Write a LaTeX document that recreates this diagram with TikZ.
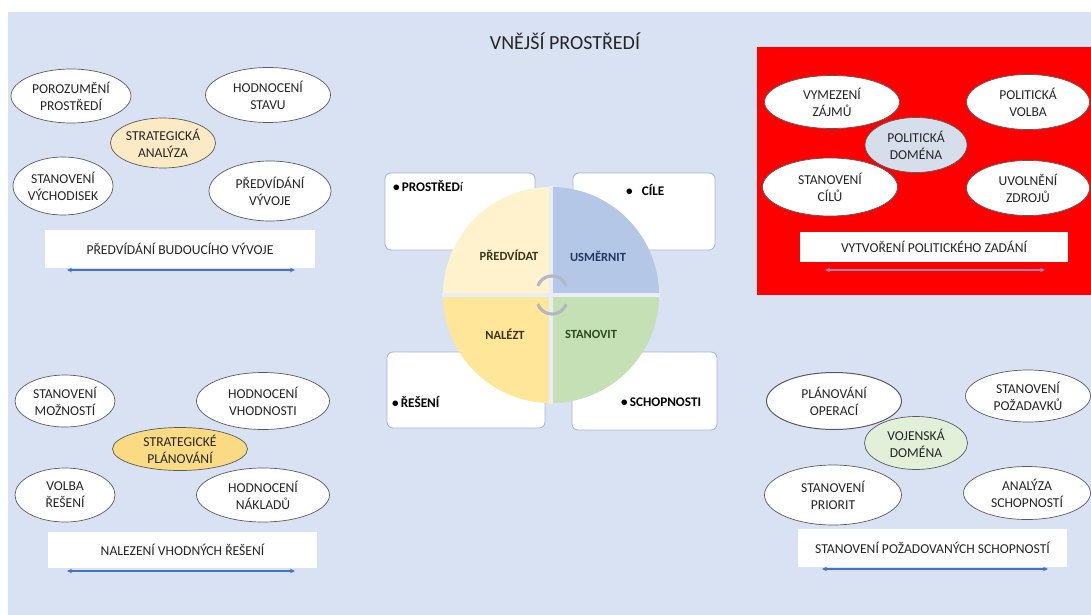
\documentclass[tikz,border=0pt]{standalone}
\usepackage{fontspec}
\setmainfont{Carlito}
\usetikzlibrary{shapes.geometric,arrows.meta,calc}

\definecolor{bgblue}{RGB}{217,226,242}
\definecolor{inktext}{RGB}{38,38,38}
\definecolor{elline}{RGB}{90,90,95}
\definecolor{tanfill}{RGB}{252,234,196}
\definecolor{goldfill}{RGB}{250,218,130}
\definecolor{polfill}{RGB}{214,222,236}
\definecolor{milfill}{RGB}{226,239,217}
\definecolor{arrowblue}{RGB}{68,114,196}
\definecolor{arrowred}{RGB}{150,132,178}
\definecolor{redpanel}{RGB}{255,0,0}
\definecolor{qyellowlight}{RGB}{255,242,204}
\definecolor{qblue}{RGB}{180,199,231}
\definecolor{qyellow}{RGB}{255,230,153}
\definecolor{qgreen}{RGB}{197,224,180}
\definecolor{gapcol}{RGB}{232,237,246}
\definecolor{cardline}{RGB}{165,180,205}
\definecolor{labbrown}{RGB}{60,52,30}
\definecolor{labblue}{RGB}{32,56,100}
\definecolor{labgreen}{RGB}{45,75,35}
\definecolor{swirl}{RGB}{178,184,196}

\tikzset{
  oval/.style={ellipse, draw=elline, line width=0.7pt, fill=white, inner sep=0pt,
    align=center, text=inktext, font=\fontsize{13.6}{17}\selectfont},
  banner/.style={rectangle, fill=white, inner sep=0pt, text=inktext,
    font=\fontsize{13.6}{17}\selectfont},
  card/.style={rectangle, rounded corners=6pt, draw=cardline, line width=0.8pt,
    fill=white, inner sep=0pt},
  bullet/.style={anchor=west, inner sep=0pt, text=black,
    font=\bfseries\fontsize{13.2}{16}\selectfont},
  quadlab/.style={inner sep=0pt, font=\bfseries\fontsize{12.5}{15}\selectfont},
  span/.style={{Stealth[length=5pt,width=4.5pt]}-{Stealth[length=5pt,width=4.5pt]},
    line width=1.1pt},
}

\begin{document}
\begin{tikzpicture}[x=1pt,y=-1pt]
\useasboundingbox (0,0) rectangle (1091,615);
\fill[white] (0,0) rectangle (1091,615);
\fill[bgblue] (8,12) rectangle (1091,615);

% title
\node[text=inktext, font=\fontsize{20}{24}\selectfont] (title) at (565,41) {VNĚJŠÍ PROSTŘEDÍ};

% red panel behind the political domain
\fill[redpanel] (757,47) rectangle (1091,295);

% ---------- strategic analysis (top left) ----------
\node[oval, minimum width=120pt, minimum height=54pt] (e1) at (71,96) {POROZUMĚNÍ\\PROSTŘEDÍ};
\node[oval, minimum width=125pt, minimum height=55pt] (e2) at (268,95) {HODNOCENÍ\\STAVU};
\node[oval, minimum width=100pt, minimum height=58pt] (e4) at (63,186) {STANOVENÍ\\VÝCHODISEK};
\node[oval, minimum width=122pt, minimum height=60pt] (e5) at (270,191) {PŘEDVÍDÁNÍ\\VÝVOJE};
\node[oval, fill=tanfill, minimum width=98pt, minimum height=50pt] (e3) at (163,143) {STRATEGICKÁ\\ANALÝZA};
\node[banner, minimum width=270pt, minimum height=38pt] (b1) at (180,249) {PŘEDVÍDÁNÍ BUDOUCÍHO VÝVOJE};
\coordinate (a1l) at (67,270);
\coordinate (a1r) at (295,270);
\draw[span, arrowblue] (a1l) -- (a1r);

% ---------- political domain (top right) ----------
\node[oval, minimum width=135pt, minimum height=53pt] (e6) at (832,102) {VYMEZENÍ\\ZÁJMŮ};
\node[oval, minimum width=123pt, minimum height=55pt] (e7) at (1028,102) {POLITICKÁ\\VOLBA};
\node[oval, minimum width=135pt, minimum height=58pt] (e9) at (830,187) {STANOVENÍ\\CÍLŮ};
\node[oval, minimum width=123pt, minimum height=55pt] (e10) at (1028,188) {UVOLNĚNÍ\\ZDROJŮ};
\node[oval, fill=polfill, minimum width=102pt, minimum height=55pt] (e8) at (916,145) {POLITICKÁ\\DOMÉNA};
\node[banner, minimum width=268pt, minimum height=30pt] (b2) at (934,247) {VYTVOŘENÍ POLITICKÉHO ZADÁNÍ};
\coordinate (a2l) at (825,270);
\coordinate (a2r) at (1045,270);
\draw[span, arrowred] (a2l) -- (a2r);

% ---------- strategic planning (bottom left) ----------
\node[oval, minimum width=100pt, minimum height=52pt] (e11) at (65,401) {STANOVENÍ\\MOŽNOSTÍ};
\node[oval, minimum width=133pt, minimum height=57pt] (e12) at (263,401) {HODNOCENÍ\\VHODNOSTI};
\node[oval, minimum width=100pt, minimum height=54pt] (e14) at (65,495) {VOLBA\\ŘEŠENÍ};
\node[oval, minimum width=133pt, minimum height=54pt] (e15) at (263,495) {HODNOCENÍ\\NÁKLADŮ};
\node[oval, fill=goldfill, minimum width=135pt, minimum height=43pt] (e13) at (180,449) {STRATEGICKÉ\\PLÁNOVÁNÍ};
\node[banner, minimum width=269pt, minimum height=36pt] (b3) at (182.5,550) {NALEZENÍ VHODNÝCH ŘEŠENÍ};
\coordinate (a3l) at (67,571);
\coordinate (a3r) at (295,571);
\draw[span, arrowblue] (a3l) -- (a3r);

% ---------- military domain (bottom right) ----------
\node[oval, line width=1pt, minimum width=135pt, minimum height=57pt] (e16) at (834,401) {PLÁNOVÁNÍ\\OPERACÍ};
\node[oval, minimum width=125pt, minimum height=52pt] (e17) at (1028,396) {STANOVENÍ\\POŽADAVKŮ};
\node[oval, minimum width=137pt, minimum height=60pt] (e19) at (833,495) {STANOVENÍ\\PRIORIT};
\node[oval, minimum width=127pt, minimum height=53pt] (e20) at (1027,493) {ANALÝZA\\SCHOPNOSTÍ};
\node[oval, fill=milfill, minimum width=103pt, minimum height=53pt] (e18) at (916,443) {VOJENSKÁ\\DOMÉNA};
\node[banner, minimum width=269pt, minimum height=38pt] (b4) at (932.5,548) {STANOVENÍ POŽADOVANÝCH SCHOPNOSTÍ};
\coordinate (a4l) at (822,569);
\coordinate (a4r) at (1048,569);
\draw[span, arrowblue] (a4l) -- (a4r);

% ---------- central cycle ----------
\node[card, minimum width=150pt, minimum height=77pt] (c1) at (460,211.5) {};
\node[card, minimum width=142pt, minimum height=77pt] (c2) at (644,211.5) {};
\node[card, minimum width=158pt, minimum height=76pt] (c3) at (466,390) {};
\node[card, minimum width=145pt, minimum height=78pt] (c4) at (644.5,391) {};

\node[bullet] (t1) at (393,186) {\textbullet\hspace{2pt}PROSTŘED{\mdseries í}};
\node[bullet] (t2) at (626,190) {\textbullet\hspace{9pt}CÍLE};
\node[bullet] (t3) at (392,402) {\textbullet\hspace{2pt}ŘEŠENÍ};
\node[bullet] (t4) at (621,402) {\textbullet\hspace{2pt}SCHOPNOSTI};

\coordinate (hub) at (551,295);
% quadrant sectors (y axis points down: 180..270 is upper left)
\fill[qyellowlight] (hub) -- ++(180:108) arc[start angle=180, end angle=270, radius=108] -- cycle;
\fill[qblue]        (hub) -- ++(270:108) arc[start angle=270, end angle=360, radius=108] -- cycle;
\fill[qgreen]       (hub) -- ++(0:108)   arc[start angle=0,   end angle=90,  radius=108] -- cycle;
\fill[qyellow]      (hub) -- ++(90:108)  arc[start angle=90,  end angle=180, radius=108] -- cycle;
% white gaps between the quadrants
\draw[gapcol, line width=4.5pt] ($(hub)+(0,-109)$) -- ($(hub)+(0,109)$);
\draw[gapcol, line width=4.5pt] ($(hub)+(-109,0)$) -- ($(hub)+(109,0)$);

% cycle swirl at the hub
\coordinate (swu) at (552,291);
\coordinate (swd) at (552,299);
\draw[swirl, line width=3.2pt] ($(swu)+(200:15)$) arc[start angle=200, end angle=340, radius=15];
\draw[swirl, line width=3.2pt] ($(swd)+(20:15)$) arc[start angle=20, end angle=160, radius=15];

\node[quadlab, text=labbrown] (q1) at (509,255) {PŘEDVÍDAT};
\node[quadlab, text=labblue]  (q2) at (598,256) {USMĚRNIT};
\node[quadlab, text=labbrown] (q3) at (505,334) {NALÉZT};
\node[quadlab, text=labgreen] (q4) at (591,334) {STANOVIT};
\end{tikzpicture}
\end{document}
